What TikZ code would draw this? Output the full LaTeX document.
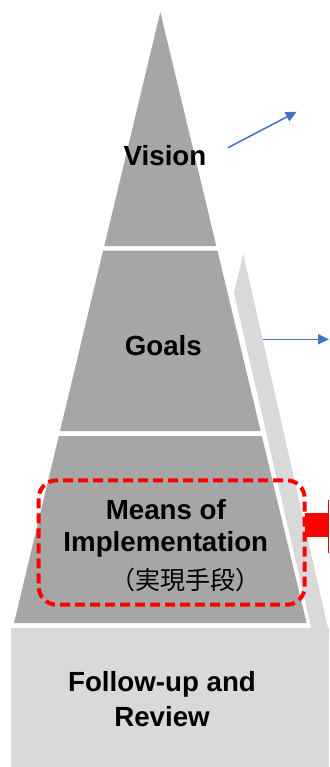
\documentclass[tikz,border=0pt]{standalone}
\usepackage{fontspec}
\setmainfont{Liberation Sans}
\newfontfamily\jpfont{Noto Sans CJK JP}
\usetikzlibrary{arrows.meta}
\definecolor{pyrgray}{HTML}{A6A6A6}
\definecolor{sidegray}{HTML}{D9D9D9}
\definecolor{linkblue}{HTML}{4472C4}

\begin{document}
\begin{tikzpicture}[
    x=1pt, y=-1pt,
    every node/.style={inner sep=0pt, align=center, font=\fontsize{27.7}{32.4}\selectfont\bfseries},
    layer/.style={fill=pyrgray},
    side/.style={fill=sidegray},
    link/.style={-{Triangle[length=11pt,width=10pt]}, draw=linkblue, line width=1.5pt},
    focus/.style={draw=red, line width=4pt, dash pattern=on 10pt off 5pt, rounded corners=18pt}
]
  \useasboundingbox (0,0) rectangle (329,767);

  % side face and base block
  \fill[side] (243.3,254) -- (329,632.5) -- (329,640) -- (314,640) -- (234,293) -- cycle;
  \fill[side] (11,628) rectangle (329,767);

  % pyramid layers, top to bottom
  \fill[layer] (160.3,12) -- (216.3,246) -- (104.3,246) -- cycle;
  \fill[layer] (103.1,250.7) -- (217.5,250.7) -- (260.6,431) -- (60,431) -- cycle;
  \fill[layer] (58.8,436) -- (261.8,436) -- (306.6,623) -- (14,623) -- cycle;

  % Labels
  \node[anchor=base] (vision) at (165,165.7) {Vision};
  \node[anchor=base] (goals) at (163.3,355) {Goals};
  \node (means) at (165.8,528.3) {Means of\\Implementation};
  \node[anchor=base west, font=\fontsize{25}{30}\selectfont\jpfont] (meansjp) at (110,589) {（実現手段）};
  \node (review) at (162,699) {Follow-up and\\[2.6pt]Review};

  % dashed frame round the means layer, red marker at the edge
  \draw[focus] (38.7,480.3) rectangle (304.7,604.7);
  \fill[red] (305,513) rectangle (329,537);
  \fill[red] (328,500) rectangle (329,553);

  % outgoing links
  \coordinate (vtail) at (228,147.7);
  \coordinate (vhead) at (296.7,111.7);
  \coordinate (gtail) at (263.3,339.3);
  \coordinate (ghead) at (329,339.3);
  \draw[link] (vtail) -- (vhead);
  \draw[link] (gtail) -- (ghead);
\end{tikzpicture}
\end{document}
